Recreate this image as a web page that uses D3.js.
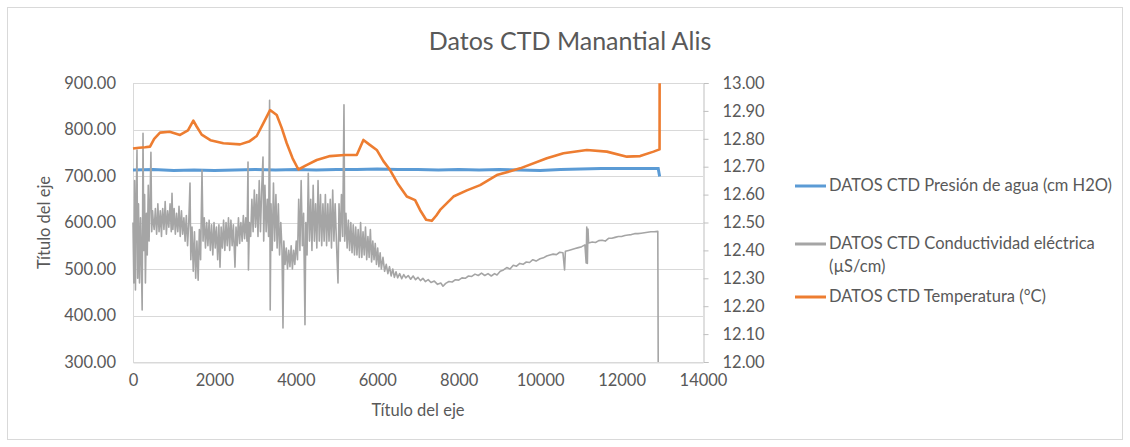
<!DOCTYPE html>
<html>
<head>
<meta charset="utf-8">
<script src="https://cdn.jsdelivr.net/npm/d3@7"></script>
<style>
  body { margin: 0; background: #fff; }
  text { font-family: Lato, "Open Sans", sans-serif; fill: #595959; }
</style>
</head>
<body>
<svg class="ctdChart" width="1130" height="447"></svg>
<script>
// series names
const seriesNames = [
    "DATOS CTD Presión de agua (cm H2O)",
    "DATOS CTD Conductividad eléctrica (µS/cm)",
    "DATOS CTD Temperatura (°C)"
];

// tick values
const xTicks = [0, 2000, 4000, 6000, 8000, 10000, 12000, 14000];
const leftTicks = [300, 400, 500, 600, 700, 800, 900];
const rightTicks = [12.0, 12.1, 12.2, 12.3, 12.4, 12.5, 12.6, 12.7, 12.8, 12.9, 13.0];

// pressure (cm H2O), [sample, value]
const presion = [
    [0, 713], [500, 714], [1000, 712], [1500, 713], [2000, 712], [2500, 713], [3000, 714],
    [3500, 713], [4000, 714], [4500, 713], [5000, 714], [5500, 714], [6000, 715], [6500, 714],
    [7000, 714], [7500, 713], [8000, 714], [8500, 713], [9000, 714], [9500, 713], [10000, 712],
    [10500, 714], [11000, 715], [11500, 716], [12000, 716], [12500, 716], [12900, 716], [12935, 699]
];

// electrical conductivity (uS/cm), [sample, value]
const conductividad = [
    [0,600],[20,470],[40,690],[60,455],[80,650],[98,756],[115,480],[135,640],[160,470],[185,610],
    [205,520],[225,412],[246,792],[265,540],[285,660],[305,470],[330,620],[350,530],[375,680],[395,560],
    [420,650],[440,751],[460,580],[480,625],[500,600],[520,585],[540,615],[550,630],[580,575],[600,610],[610,640],[640,580],[655,600],[670,625],
    [700,570],[715,612],[730,630],[760,585],[775,610],[790,645],[820,575],[835,600],[850,625],[880,590],[895,615],[910,640],[940,580],[958,663],
    [980,585],[995,605],[1010,630],[1040,575],[1055,598],[1070,620],[1100,580],[1115,600],[1130,635],[1160,570],[1175,600],[1190,625],[1220,575],[1250,610],
    [1280,560],[1295,592],[1310,615],[1340,550],[1370,600],[1400,685],[1420,520],[1450,590],[1480,495],[1510,580],[1540,480],
    [1570,560],[1600,476],[1630,585],[1660,520],[1695,713],[1720,560],[1735,590],[1750,610],[1780,545],[1795,575],[1810,600],[1840,550],
    [1870,605],[1885,570],[1900,540],[1930,595],[1945,565],[1960,530],[1990,600],[2020,545],[2035,575],[2050,590],[2080,520],[2110,595],[2137,504],
    [2165,590],[2180,560],[2195,545],[2225,605],[2240,572],[2255,540],[2285,600],[2300,575],[2315,550],[2345,610],[2375,540],[2390,580],[2405,605],[2435,550],
    [2465,595],[2505,504],[2530,590],[2545,568],[2560,550],[2590,610],[2620,555],[2635,585],[2650,600],[2680,560],[2710,615],[2740,565],
    [2770,610],[2800,560],[2825,730],[2835,498],[2860,600],[2890,570],[2920,650],[2950,580],[2980,670],[3010,590],
    [3040,660],[3070,570],[3100,690],[3130,580],[3160,670],[3193,741],[3210,560],[3240,680],[3270,580],[3300,650],
    [3330,570],[3355,863],[3370,412],[3390,640],[3420,540],[3450,685],[3480,560],[3510,660],[3540,545],[3570,640],
    [3600,530],[3630,600],[3660,540],[3684,373],[3705,560],[3735,510],[3765,545],[3795,500],[3825,540],[3855,505],
    [3885,550],[3915,500],[3945,540],[3975,510],[4010,560],[4040,520],[4070,650],[4100,540],[4130,690],[4160,550],
    [4190,620],[4224,380],[4245,600],[4275,530],[4305,706],[4335,560],[4365,650],[4395,540],[4425,680],[4455,560],
    [4485,640],[4515,545],[4545,690],[4575,560],[4605,660],[4635,550],[4665,640],[4695,560],[4725,660],[4755,550],
    [4785,640],[4815,560],[4845,650],[4875,545],[4905,670],[4935,560],[4965,640],[5000,550],[5035,470],[5060,640],
    [5090,560],[5120,660],[5150,570],[5182,853],[5200,560],[5230,620],[5260,545],[5290,605],[5320,540],[5350,600],
    [5380,535],[5410,595],[5440,530],[5470,590],[5500,530],[5530,585],[5560,525],[5590,600],[5620,525],[5650,580],
    [5680,530],[5710,590],[5740,520],[5770,570],[5800,525],[5830,585],[5860,515],[5890,560],[5920,520],[5950,555],
    [5980,510],[6010,545],[6040,505],[6070,535],[6100,500],[6140,525],[6180,495],[6220,510],[6260,490],[6300,505],
    [6340,485],[6380,500],[6420,482],[6460,494],[6500,481],[6550,490],[6600,479],[6650,488],[6700,481],[6760,486],
    [6820,478],[6880,485],[6940,477],[7000,482],[7060,475],[7120,480],[7180,473],[7250,477],[7320,471],[7400,474],
    [7480,467],[7560,470],[7614,463],[7680,469],[7760,473],[7840,472],[7920,477],[8000,476],[8080,481],[8160,480],
    [8240,485],[8320,484],[8400,489],[8480,486],[8560,491],[8640,486],[8720,490],[8800,485],[8880,490],[8940,487],
    [9020,495],[9100,498],[9180,503],[9260,500],[9340,508],[9420,506],[9500,512],[9580,510],[9660,515],[9740,514],
    [9820,520],[9900,517],[9996,522],[10080,524],[10160,528],[10240,530],[10320,532],[10400,531],[10480,536],[10560,535],
    [10600,498],[10620,538],[10700,540],[10780,542],[10860,544],[10940,546],[11020,548],[11100,552],[11130,513],[11145,590],
    [11160,512],[11175,586],[11190,556],[11280,558],[11360,557],[11440,561],[11520,562],[11600,560],[11680,566],[11760,566],
    [11840,568],[11920,570],[12000,570],[12080,572],[12160,573],[12240,574],[12320,576],[12400,576],[12480,577],[12560,578],
    [12640,579],[12720,580],[12800,580],[12890,581],[12900,300]
];

// temperature (°C), [sample, value] - secondary axis
const temperatura = [
    [0,12.765],[150,12.768],[300,12.77],[418,12.772],[520,12.80],[663,12.822],[900,12.825],[1155,12.814],
    [1350,12.83],[1482,12.865],[1560,12.845],[1687,12.815],[1900,12.795],[2219,12.784],[2629,12.78],[2850,12.79],
    [3039,12.81],[3203,12.856],[3366,12.903],[3530,12.885],[3650,12.84],[3776,12.784],[3920,12.73],[4062,12.69],
    [4250,12.705],[4513,12.724],[4840,12.738],[5200,12.742],[5496,12.742],[5580,12.77],[5659,12.796],[5800,12.78],
    [5987,12.76],[6150,12.72],[6314,12.688],[6500,12.64],[6725,12.593],[6929,12.58],[7050,12.545],[7200,12.51],
    [7338,12.506],[7450,12.525],[7543,12.545],[7871,12.593],[8200,12.615],[8526,12.634],[8936,12.67],[9509,12.694],
    [10164,12.73],[10573,12.748],[11147,12.76],[11639,12.754],[12130,12.736],[12457,12.738],[12785,12.754],
    [12933,12.762],[12935,12.999]
];

const colors = ["#5B9BD5", "#A5A5A5", "#ED7D31"];

const svg = d3.select(".ctdChart");
const W = +svg.attr("width");
const H = +svg.attr("height");

// chart area border
svg.append("rect")
    .attr("x", 7.5).attr("y", 7.5)
    .attr("width", W - 15).attr("height", H - 15)
    .attr("fill", "#fff")
    .attr("stroke", "#d9d9d9");

const plot = { left: 133, right: 703, top: 83, bottom: 362 };

const x = d3.scaleLinear().domain([0, 14000]).range([plot.left, plot.right]);
const yLeft = d3.scaleLinear().domain([300, 900]).range([plot.bottom, plot.top]);
const yRight = d3.scaleLinear().domain([12, 13]).range([plot.bottom, plot.top]);

// horizontal gridlines
svg.append("g")
    .selectAll("line")
    .data(leftTicks)
    .enter().append("line")
    .attr("x1", plot.left).attr("x2", plot.right)
    .attr("y1", d => Math.round(yLeft(d)) + 0.5)
    .attr("y2", d => Math.round(yLeft(d)) + 0.5)
    .attr("stroke", "#d9d9d9");

const tickFont = "16.5px";

// left axis (labels only)
const leftAxis = svg.append("g")
    .attr("transform", `translate(${plot.left},0)`)
    .call(d3.axisLeft(yLeft).tickValues(leftTicks).tickSize(0).tickPadding(17).tickFormat(d3.format(".2f")));
leftAxis.select(".domain").attr("stroke", "#d9d9d9");
leftAxis.selectAll("text").style("font-size", tickFont).attr("fill", "#595959")
    .style("font-family", "Lato, sans-serif");

// right axis
const rightAxis = svg.append("g")
    .attr("transform", `translate(${plot.right + 0.5},0)`)
    .call(d3.axisRight(yRight).tickValues(rightTicks).tickSize(5).tickPadding(14).tickFormat(d3.format(".2f")));
rightAxis.select(".domain").attr("stroke", "#bfbfbf");
rightAxis.selectAll("line").attr("stroke", "#bfbfbf");
rightAxis.selectAll("text").style("font-size", tickFont).attr("fill", "#595959")
    .style("font-family", "Lato, sans-serif");

// bottom axis
const bottomAxis = svg.append("g")
    .attr("transform", `translate(0,${plot.bottom + 0.5})`)
    .call(d3.axisBottom(x).tickValues(xTicks).tickSize(0).tickPadding(12).tickFormat(d3.format("d")));
bottomAxis.select(".domain").attr("stroke", "#d9d9d9");
bottomAxis.selectAll("text").style("font-size", tickFont).attr("fill", "#595959")
    .style("font-family", "Lato, sans-serif");

// lines
const lineLeft = d3.line().x(d => x(d[0])).y(d => yLeft(d[1]));
const lineRight = d3.line().x(d => x(d[0])).y(d => yRight(d[1]));

svg.append("path")
    .attr("d", lineLeft(presion))
    .attr("fill", "none")
    .attr("stroke", colors[0])
    .attr("stroke-width", 3);

svg.append("path")
    .attr("d", lineLeft(conductividad))
    .attr("fill", "none")
    .attr("stroke", colors[1])
    .attr("stroke-width", 1.6)
    .attr("stroke-linejoin", "round");

svg.append("path")
    .attr("d", lineRight(temperatura))
    .attr("fill", "none")
    .attr("stroke", colors[2])
    .attr("stroke-width", 2.6)
    .attr("stroke-linejoin", "round");

// title
svg.append("text")
    .attr("x", 570).attr("y", 50)
    .attr("text-anchor", "middle")
    .style("font-size", "25px")
    .text("Datos CTD Manantial Alis");

// axis titles
svg.append("text")
    .attr("transform", `translate(50,${(plot.top + plot.bottom) / 2}) rotate(-90)`)
    .attr("text-anchor", "middle")
    .style("font-size", "16.5px")
    .text("Título del eje");

svg.append("text")
    .attr("x", (plot.left + plot.right) / 2).attr("y", 416)
    .attr("text-anchor", "middle")
    .style("font-size", "16.5px")
    .text("Título del eje");

// legend
const legendRows = [
    { lines: ["DATOS CTD Presión de agua (cm H2O)"], y: 186 },
    { lines: ["DATOS CTD Conductividad eléctrica", "(µS/cm)"], y: 244 },
    { lines: ["DATOS CTD Temperatura (°C)"], y: 297 }
];
const legend = svg.append("g");
legendRows.forEach((row, i) => {
    legend.append("line")
        .attr("x1", 795).attr("x2", 826)
        .attr("y1", row.y).attr("y2", row.y)
        .attr("stroke", colors[i])
        .attr("stroke-width", 3);
    row.lines.forEach((t, j) => {
        legend.append("text")
            .attr("x", 829).attr("y", row.y + 5 + j * 23)
            .style("font-size", "16.5px")
            .text(t);
    });
});
</script>
</body>
</html>
